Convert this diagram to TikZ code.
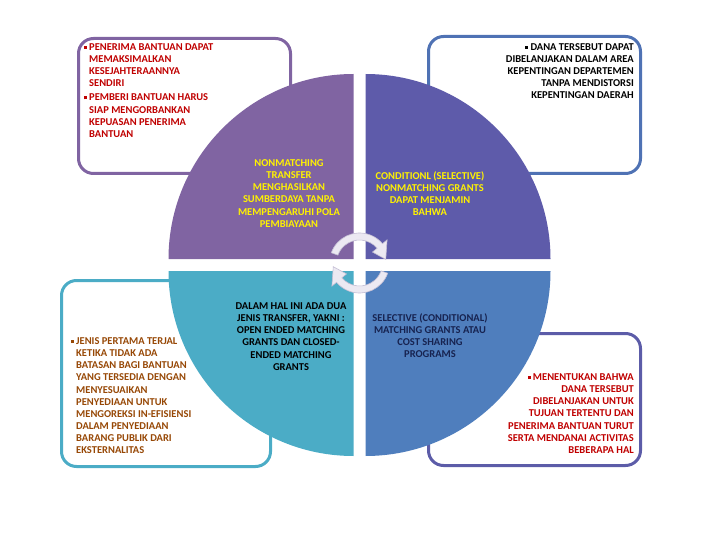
\documentclass[tikz,border=0pt]{standalone}
\usepackage{fontspec}
\setmainfont{Carlito}
\usepackage{tikz}
\usetikzlibrary{positioning}
\definecolor{qpurple}{RGB}{128,100,162}
\definecolor{qindigo}{RGB}{94,91,170}
\definecolor{qteal}{RGB}{75,172,198}
\definecolor{qblue}{RGB}{79,126,189}
\definecolor{bordtr}{RGB}{79,114,180}
\definecolor{bordbr}{RGB}{92,92,168}
\definecolor{txtred}{RGB}{192,0,0}
\definecolor{txtbrown}{RGB}{151,72,6}
\definecolor{txtnavy}{RGB}{23,35,80}
\definecolor{arrfill}{RGB}{236,233,242}
\definecolor{arrline}{RGB}{196,190,212}
\newcommand{\sqbul}{\rule[1.6pt]{3pt}{3pt}}

\begin{document}
\begin{tikzpicture}[x=1pt, y=-1pt,
    box/.style={rounded corners=15pt, line width=3pt, fill=white},
    txt/.style={inner sep=0pt, font=\bfseries\fontsize{10.5}{12.1}\selectfont},
    cyc/.style={fill=arrfill, draw=arrline, line width=0.6pt}
  ]
  \useasboundingbox (0,0) rectangle (720,540);
  \coordinate (c) at (359.5,265);
  % corner boxes
  \draw[box, draw=qpurple] (78.5,38.5) rectangle (290.5,173.5);
  \draw[box, draw=bordtr]  (428.5,36.5) rectangle (640.5,173.5);
  \draw[box, draw=qteal]   (61.5,280.5) rectangle (270.5,466.5);
  \draw[box, draw=bordbr]  (428.5,333.5) rectangle (640.5,465.5);
  % quadrants
  \fill[qpurple, shift={(c)}] (-6,-6) -- (-191,-6) arc[start angle=180, end angle=270, radius=185] -- cycle;
  \fill[qindigo, shift={(c)}] (6,-6) -- (6,-191) arc[start angle=270, end angle=360, radius=185] -- cycle;
  \fill[qblue, shift={(c)}]   (6,6) -- (191,6) arc[start angle=0, end angle=90, radius=185] -- cycle;
  \fill[qteal, shift={(c)}]   (-6,6) -- (-6,191) arc[start angle=90, end angle=180, radius=185] -- cycle;
  % cycle arrows
  \filldraw[cyc, shift={(359.5,263)}] (200:30) arc[start angle=200, end angle=320, radius=30]
    -- (320:36) -- (352:26.5) -- (320:17) -- (320:23) arc[start angle=320, end angle=200, radius=23] -- cycle;
  \filldraw[cyc, shift={(359.5,263)}] (20:30) arc[start angle=20, end angle=140, radius=30]
    -- (140:36) -- (172:26.5) -- (140:17) -- (140:23) arc[start angle=140, end angle=20, radius=23] -- cycle;
  % box texts
  \node[txt, text=txtred, align=left, anchor=north west] (tltext) at (89,43.5)
    {\llap{\sqbul\hspace{2pt}}PENERIMA BANTUAN DAPAT\\ MEMAKSIMALKAN\\ KESEJAHTERAANNYA\\ SENDIRI\\[2pt]
     \llap{\sqbul\hspace{2pt}}PEMBERI BANTUAN HARUS\\ SIAP MENGORBANKAN\\ KEPUASAN PENERIMA\\ BANTUAN};
  \node[txt, text=black, align=right, anchor=north east] (trtext) at (634,43.5)
    {\sqbul\ DANA TERSEBUT DAPAT\\ DIBELANJAKAN DALAM AREA\\ KEPENTINGAN DEPARTEMEN\\ TANPA MENDISTORSI\\ KEPENTINGAN DAERAH};
  \node[txt, text=txtbrown, align=left, anchor=north west] (bltext) at (76,337.6)
    {\llap{\sqbul\hspace{2pt}}JENIS PERTAMA TERJAL\\ KETIKA TIDAK ADA\\ BATASAN BAGI BANTUAN\\ YANG TERSEDIA DENGAN\\ MENYESUAIKAN\\
     PENYEDIAAN UNTUK\\ MENGOREKSI IN-EFISIENSI\\ DALAM PENYEDIAAN\\ BARANG PUBLIK DARI\\ EKSTERNALITAS};
  \node[txt, text=txtred, align=right, anchor=north east] (brtext) at (634,373.6)
    {\sqbul\hspace{2pt}MENENTUKAN BAHWA\\ DANA TERSEBUT\\ DIBELANJAKAN UNTUK\\ TUJUAN TERTENTU DAN\\ PENERIMA BANTUAN TURUT\\
     SERTA MENDANAI ACTIVITAS\\ BEBERAPA HAL};
  % quadrant texts
  \node[txt, text=yellow, align=center, anchor=north] (tlquad) at (289,159.6)
    {NONMATCHING\\ TRANSFER\\ MENGHASILKAN\\ SUMBERDAYA TANPA\\ MEMPENGARUHI POLA\\ PEMBIAYAAN};
  \node[txt, text=yellow, align=center, anchor=north] (trquad) at (430,171.6)
    {CONDITIONL (SELECTIVE)\\ NONMATCHING GRANTS\\ DAPAT MENJAMIN\\ BAHWA};
  \node[txt, text=black, align=center, anchor=north] (blquad) at (291,302.6)
    {DALAM HAL INI ADA DUA\\ JENIS TRANSFER, YAKNI :\\ OPEN ENDED MATCHING\\ GRANTS DAN CLOSED-\\ ENDED MATCHING\\ GRANTS};
  \node[txt, text=txtnavy, align=center, anchor=north] (brquad) at (430,313.6)
    {SELECTIVE (CONDITIONAL)\\ MATCHING GRANTS ATAU\\ COST SHARING\\ PROGRAMS};
\end{tikzpicture}
\end{document}
